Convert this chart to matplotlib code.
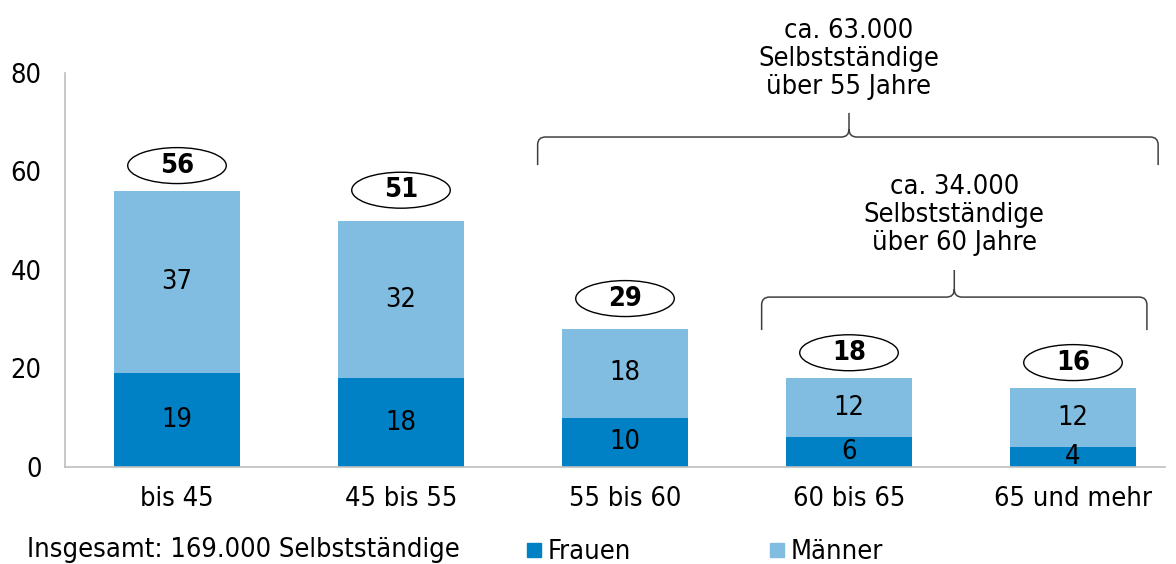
import matplotlib
matplotlib.use("Agg")
import matplotlib.pyplot as plt
from matplotlib.patches import Ellipse, PathPatch, Rectangle
from matplotlib.path import Path
import numpy as np

categories = ["bis 45", "45 bis 55", "55 bis 60", "60 bis 65", "65 und mehr"]
frauen = [19, 18, 10, 6, 4]
maenner = [37, 32, 18, 12, 12]
total_labels = [56, 51, 29, 18, 16]
yticks = [0, 20, 40, 60, 80]

C_F = "#0080C5"
C_M = "#80BDE0"
FS = 19.5
FONT = dict(family="DejaVu Sans", stretch="condensed")

plt.rcParams["font.family"] = "DejaVu Sans"
fig = plt.figure(figsize=(11.76, 5.64), dpi=100)
ax = fig.add_axes([65/1176, 97/564, (1176-65)/1176, (467-73)/564])

x = np.arange(len(categories))
w = 0.56
ax.bar(x, frauen, width=w, color=C_F, zorder=2)
ax.bar(x, maenner, width=w, bottom=frauen, color=C_M, zorder=2)

for i in range(len(categories)):
    ax.text(x[i], frauen[i] / 2, str(frauen[i]), ha="center", va="center",
            fontsize=FS, color="black", **FONT)
    ax.text(x[i], frauen[i] + maenner[i] / 2, str(maenner[i]), ha="center",
            va="center", fontsize=FS, color="black", **FONT)
    yc = total_labels[i] + 5.2
    ax.add_patch(Ellipse((x[i], yc), 0.44, 7.3, facecolor="white",
                         edgecolor="black", lw=1.0, zorder=3))
    ax.text(x[i], yc, str(total_labels[i]), ha="center", va="center",
            fontsize=FS, fontweight="bold", zorder=4, **FONT)

ax.set_ylim(0, 80)
ax.set_xlim(-0.5, (1176 - 177) / 224)
ax.set_yticks(yticks)
ax.set_xticks(x)
ax.set_xticklabels(categories)
ax.tick_params(axis="both", length=0, labelsize=FS)
ax.tick_params(axis="y", pad=17)
ax.tick_params(axis="x", pad=14)
for lab in ax.get_xticklabels() + ax.get_yticklabels():
    lab.set_fontstretch("condensed")
for s in ["top", "right"]:
    ax.spines[s].set_visible(False)
for s in ["left", "bottom"]:
    ax.spines[s].set_color("#BFBFBF")
    ax.spines[s].set_linewidth(1.2)
ax.spines["bottom"].set_bounds(-0.5, 4.41)


def brace(x0, x1, xm, yh, yend, ytip, dx=0.035, r=1.6):
    verts = [(x0, yend), (x0, yh - r), (x0, yh), (x0 + dx, yh),
             (xm - dx, yh), (xm, yh), (xm, yh + r), (xm, ytip),
             (xm, yh + r), (xm, yh), (xm + dx, yh),
             (x1 - dx, yh), (x1, yh), (x1, yh - r), (x1, yend)]
    codes = [Path.MOVETO, Path.LINETO, Path.CURVE3, Path.CURVE3,
             Path.LINETO, Path.CURVE3, Path.CURVE3, Path.LINETO,
             Path.MOVETO, Path.CURVE3, Path.CURVE3,
             Path.LINETO, Path.CURVE3, Path.CURVE3, Path.LINETO]
    ax.add_patch(PathPatch(Path(verts, codes), facecolor="none",
                           edgecolor="#404040", lw=1.1, clip_on=False, zorder=3))


brace(1.61, 4.38, 3.0, 67.0, 61.3, 71.9)
brace(2.61, 4.33, 3.47, 34.5, 27.8, 40.0)

ax.text(3.0, 82.8, "ca. 63.000\nSelbstständige\nüber 55 Jahre", ha="center",
        va="center", fontsize=FS, linespacing=1.1, clip_on=False, **FONT)
ax.text(3.47, 51.2, "ca. 34.000\nSelbstständige\nüber 60 Jahre", ha="center",
        va="center", fontsize=FS, linespacing=1.1, **FONT)

fig.text(27/1176, 1 - 550/564, "Insgesamt: 169.000 Selbstständige",
         ha="left", va="center", fontsize=FS, **FONT)
fig.patches.append(Rectangle((527/1176, 1 - 557/564), 14/1176, 14/564,
                             transform=fig.transFigure, color=C_F))
fig.text(548/1176, 1 - 552/564, "Frauen", ha="left", va="center",
         fontsize=FS, **FONT)
fig.patches.append(Rectangle((770/1176, 1 - 557/564), 14/1176, 14/564,
                             transform=fig.transFigure, color=C_M))
fig.text(791/1176, 1 - 552/564, "Männer", ha="left", va="center",
         fontsize=FS, **FONT)

fig.savefig("out.png", dpi=100)
